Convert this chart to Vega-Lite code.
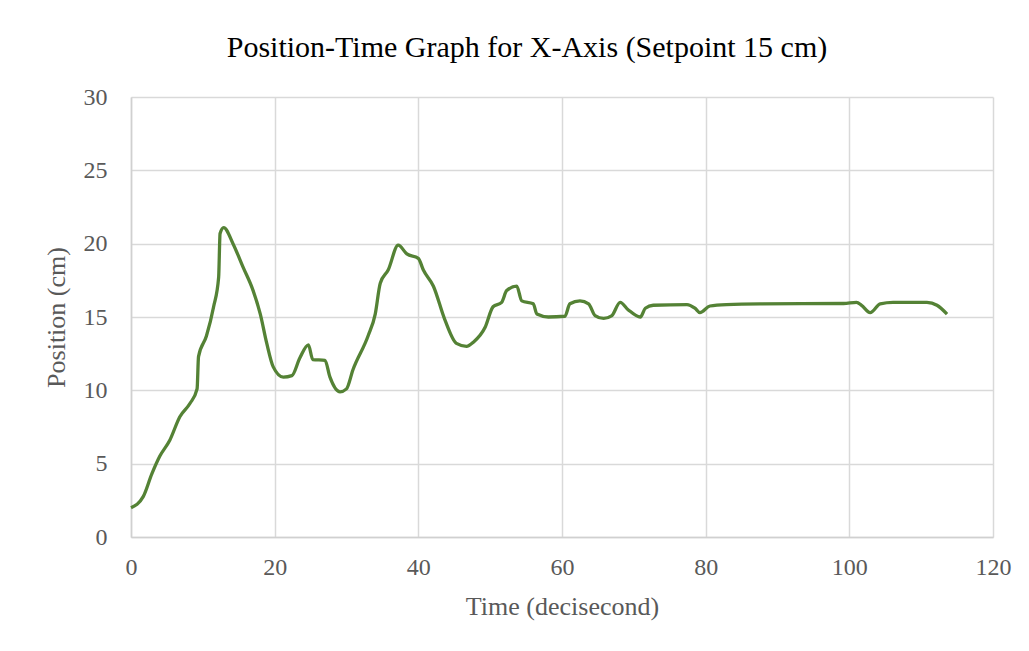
{
  "$schema": "https://vega.github.io/schema/vega-lite/v6.json",
  "width": 862,
  "height": 440,
  "autosize": {"type": "none"},
  "padding": {"left": 131, "top": 97, "right": 36, "bottom": 114},
  "background": "white",
  "title": {
    "text": "Position-Time Graph for X-Axis (Setpoint 15 cm)",
    "anchor": "middle",
    "frame": "bounds",
    "offset": 22
  },
  "data": {
    "values": [
      {"t": 0, "v": 2.0},
      {"t": 1.7, "v": 2.75},
      {"t": 2.9, "v": 4.3},
      {"t": 4.0, "v": 5.5},
      {"t": 5.4, "v": 6.6},
      {"t": 6.8, "v": 8.2},
      {"t": 8.2, "v": 9.1},
      {"t": 9.2, "v": 10.1},
      {"t": 9.4, "v": 12.3},
      {"t": 10.5, "v": 13.7},
      {"t": 11.5, "v": 15.7},
      {"t": 12.2, "v": 17.7},
      {"t": 12.4, "v": 20.7},
      {"t": 12.9, "v": 21.1},
      {"t": 14.2, "v": 20.0},
      {"t": 15.6, "v": 18.4},
      {"t": 17.0, "v": 16.8},
      {"t": 18.0, "v": 15.2},
      {"t": 18.9, "v": 13.2},
      {"t": 19.8, "v": 11.6},
      {"t": 21.2, "v": 10.9},
      {"t": 22.4, "v": 11.0},
      {"t": 23.5, "v": 12.2},
      {"t": 24.7, "v": 13.1},
      {"t": 25.3, "v": 12.1},
      {"t": 27.0, "v": 12.05},
      {"t": 27.7, "v": 10.9},
      {"t": 29.1, "v": 9.9},
      {"t": 30.0, "v": 10.1},
      {"t": 30.9, "v": 11.4},
      {"t": 33.0, "v": 13.7},
      {"t": 34.0, "v": 15.2},
      {"t": 34.7, "v": 17.3},
      {"t": 35.8, "v": 18.2},
      {"t": 37.2, "v": 19.9},
      {"t": 38.4, "v": 19.3},
      {"t": 40.0, "v": 19.0},
      {"t": 40.7, "v": 18.2},
      {"t": 42.1, "v": 17.1},
      {"t": 43.7, "v": 14.8},
      {"t": 45.3, "v": 13.2},
      {"t": 46.7, "v": 13.0},
      {"t": 47.7, "v": 13.3},
      {"t": 49.3, "v": 14.3},
      {"t": 50.4, "v": 15.7},
      {"t": 51.6, "v": 16.0},
      {"t": 52.3, "v": 16.8},
      {"t": 53.7, "v": 17.1},
      {"t": 54.4, "v": 16.1},
      {"t": 56.0, "v": 15.9},
      {"t": 56.5, "v": 15.2},
      {"t": 58.1, "v": 15.0},
      {"t": 60.4, "v": 15.05},
      {"t": 61.1, "v": 15.9},
      {"t": 62.5, "v": 16.1},
      {"t": 63.7, "v": 15.9},
      {"t": 64.6, "v": 15.1},
      {"t": 65.8, "v": 14.9},
      {"t": 66.9, "v": 15.07},
      {"t": 68.1, "v": 16.0},
      {"t": 69.2, "v": 15.5},
      {"t": 70.9, "v": 15.0},
      {"t": 71.6, "v": 15.6},
      {"t": 72.7, "v": 15.8},
      {"t": 77.4, "v": 15.85},
      {"t": 78.5, "v": 15.6},
      {"t": 79.2, "v": 15.3},
      {"t": 80.6, "v": 15.75},
      {"t": 82.9, "v": 15.85},
      {"t": 87.6, "v": 15.9},
      {"t": 99.2, "v": 15.92},
      {"t": 101.0, "v": 16.0},
      {"t": 101.7, "v": 15.8},
      {"t": 102.9, "v": 15.3},
      {"t": 104.3, "v": 15.9},
      {"t": 106.1, "v": 16.0},
      {"t": 110.8, "v": 16.0},
      {"t": 112.2, "v": 15.8},
      {"t": 113.6, "v": 15.2}
    ]
  },
  "mark": {"type": "line", "interpolate": "monotone", "color": "#548235", "strokeWidth": 3.3},
  "encoding": {
    "x": {
      "field": "t",
      "type": "quantitative",
      "scale": {"domain": [0, 120], "nice": false},
      "axis": {
        "title": "Time (decisecond)",
        "values": [0, 20, 40, 60, 80, 100, 120],
        "labelFlush": false,
        "labelPadding": 18,
        "titlePadding": 14
      }
    },
    "y": {
      "field": "v",
      "type": "quantitative",
      "scale": {"domain": [0, 30], "nice": false},
      "axis": {
        "title": "Position (cm)",
        "values": [0, 5, 10, 15, 20, 25, 30],
        "labelFlush": false,
        "labelPadding": 24,
        "titlePadding": 14
      }
    }
  },
  "config": {
    "view": {"stroke": null},
    "title": {
      "font": "Liberation Serif",
      "fontSize": 30,
      "fontWeight": "normal",
      "color": "#000000"
    },
    "axis": {
      "labelFont": "Liberation Serif",
      "titleFont": "Liberation Serif",
      "labelFontSize": 24,
      "titleFontSize": 26,
      "titleFontWeight": "normal",
      "labelColor": "#595959",
      "titleColor": "#595959",
      "gridColor": "#d9d9d9",
      "gridWidth": 1.5,
      "domainColor": "#d0d0d0",
      "domainWidth": 1.5,
      "ticks": false
    }
  }
}
